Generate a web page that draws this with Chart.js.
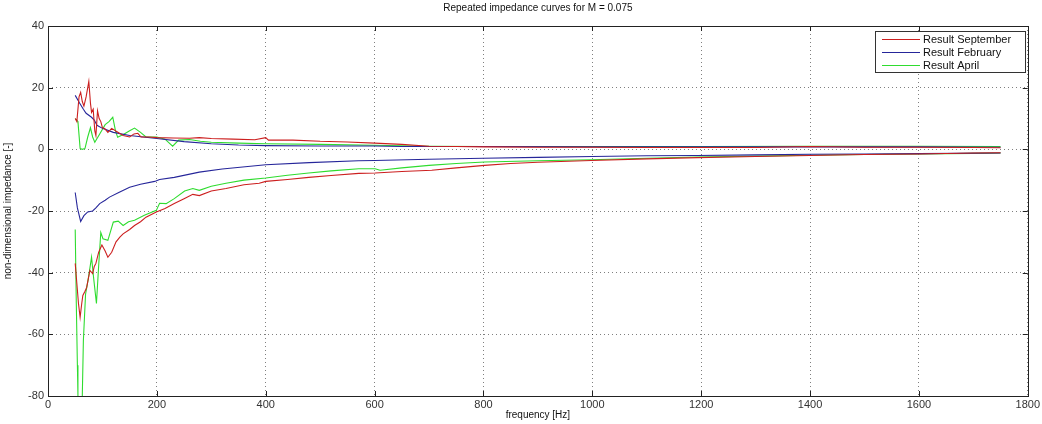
<!DOCTYPE html>
<html>
<head>
<meta charset="utf-8">
<script src="https://cdn.jsdelivr.net/npm/chart.js@4.4.0/dist/chart.umd.min.js"></script>
<style>
  body { margin: 0; background: #fff; }
  canvas { display: block; }
</style>
</head>
<body>
<canvas id="impChart" width="1042" height="424"></canvas>
<script>
// tick values
const xTicks = [0, 200, 400, 600, 800, 1000, 1200, 1400, 1600, 1800];
const yTicks = [-80, -60, -40, -20, 0, 20, 40];

const seriesNames = ["Result September", "Result February", "Result April"];

// September, upper branch
const sepUpF = [50, 53, 57, 60, 63, 66, 70, 75, 78, 80, 83, 86, 88, 91, 94, 97, 100, 104, 110, 117, 126, 138, 150, 158, 165, 171, 185, 200, 230, 260, 278, 300, 340, 380, 400, 405, 450, 500, 550, 600, 650, 700, 750, 800, 900, 1000, 1100, 1200, 1300, 1400, 1500, 1600, 1700, 1750];
const sepUp  = [10, 9, 17, 18.5, 15.5, 14, 17, 22, 15, 12, 13, 6, 4.5, 12.5, 10, 9, 7, 6.8, 5.5, 6.8, 5.8, 4.5, 4, 5, 5.2, 4, 4, 3.8, 3.7, 3.6, 3.8, 3.5, 3.3, 3.1, 3.8, 3.0, 3.0, 2.6, 2.4, 2.0, 1.6, 1.0, 0.9, 0.8, 0.7, 0.7, 0.6, 0.6, 0.6, 0.9, 0.7, 0.7, 0.6, 0.5];

// September, lower branch
const sepLoF = [50, 53, 56, 59, 62, 64, 68, 71, 74, 77, 82, 85, 88, 93, 99, 105, 110, 117, 125, 132, 138, 150, 159, 170, 180, 199, 215, 232, 250, 266, 278, 300, 327, 360, 388, 400, 440, 479, 520, 571, 601, 650, 705, 750, 802, 850, 900, 998, 1100, 1193, 1300, 1400, 1500, 1600, 1700, 1750];
const sepLo  = [-37, -43.5, -50, -54.5, -50, -47.4, -46, -44.8, -42, -39.3, -40.3, -38, -37, -33.4, -31, -33, -35, -33.4, -30, -28.5, -27.4, -26, -24.7, -23.5, -22, -20.3, -19.2, -17.6, -16, -14.6, -15, -13.5, -12.7, -11.5, -11, -10.4, -9.8, -9.1, -8.5, -7.8, -7.7, -7.2, -6.8, -6, -5.2, -4.6, -4.2, -3.6, -3.1, -2.7, -2.3, -2, -1.7, -1.5, -1.2, -1.1];

// February, upper branch
const febUpF = [50, 58, 65, 70, 80, 85, 90, 100, 120, 150, 175, 200, 250, 300, 350, 400, 500, 600, 650, 700, 800, 1000, 1200, 1400, 1600, 1750];
const febUp  = [17.5, 15, 13, 11.7, 10.4, 9.5, 7.8, 6.8, 5.5, 4.5, 4, 3.5, 2.5, 1.8, 1.4, 1.2, 1.1, 1.1, 0.9, 0.9, 0.9, 0.8, 0.8, 0.8, 0.8, 0.7];

// February, lower branch
const febLoF = [50, 54, 60, 66, 73, 82, 88, 95, 105, 113, 130, 150, 170, 196, 205, 232, 278, 320, 400, 480, 570, 600, 700, 800, 900, 1000, 1100, 1192, 1300, 1400, 1500, 1600, 1750];
const febLo  = [-14, -19, -23.4, -21.5, -20.3, -20, -19, -17.6, -16.5, -15.5, -14, -12.3, -11.3, -10.4, -9.8, -9.1, -7.4, -6.4, -5, -4.3, -3.7, -3.6, -3.2, -2.9, -2.6, -2.3, -2.1, -2, -1.8, -1.6, -1.5, -1.4, -1.2];

// April, upper branch
const aprUpF = [50, 55, 59, 63, 68, 73, 78, 82, 86, 95, 105, 112, 119, 124, 128, 140, 150, 159, 170, 180, 187, 200, 215, 229, 240, 260, 280, 300, 350, 400, 500, 600, 700, 800, 1000, 1200, 1400, 1600, 1750];
const aprUp  = [10, 9, 0.3, 0, 0.3, 4, 7, 4, 2.3, 5, 8, 9, 10.4, 6, 3.9, 5, 6, 6.9, 5.5, 4, 4, 4, 3.3, 1, 3, 3.2, 2.6, 2.3, 2, 1.8, 1.6, 1.3, 1.0, 0.9, 0.9, 0.9, 1.0, 1.0, 0.9];

// April, lower branch
const aprLoF = [50, 52, 54, 55, 57, 61, 63, 65, 69, 74, 80, 84, 89, 93, 97, 101, 110, 120, 129, 138, 148, 159, 177, 199, 205, 217, 232, 251, 266, 278, 300, 327, 360, 400, 440, 479, 520, 571, 601, 610, 650, 700, 750, 802, 900, 998, 1100, 1193, 1300, 1400, 1500, 1600, 1700, 1750];
const aprLo  = [-26, -50, -70, -80, -95, -95, -80, -62, -47, -42, -35, -42, -50, -38, -27, -29, -29.5, -23.6, -23.3, -24.7, -23.5, -23, -21.4, -19.8, -17.5, -17.6, -16, -13.5, -12.7, -13.3, -12, -11, -10, -9.3, -8.4, -7.7, -7, -6.3, -6.3, -6.8, -6, -5.2, -4.6, -4.1, -3.7, -3.4, -2.9, -2.5, -2.2, -1.9, -1.7, -1.5, -1.3, -1.2];

const colors = ["#cc1f1f", "#26269a", "#2fdc2f"];
const font = "Liberation Sans, Arial, sans-serif";

function pts(fs, vs) {
  return fs.map((f, i) => ({ x: f, y: vs[i] }));
}

function line(label, data, color) {
  return {
    label: label,
    data: data,
    borderColor: color,
    backgroundColor: color,
    borderWidth: 1.1,
    pointRadius: 0,
    tension: 0,
    fill: false
  };
}

// box frame, inward ticks and the legend box (matlab style)
const framePlugin = {
  id: "frame",
  afterDatasetsDraw(chart) {
    const ctx = chart.ctx;
    const a = chart.chartArea;
    const xs = chart.scales.x, ys = chart.scales.y;
    ctx.save();
    ctx.strokeStyle = "#222";
    ctx.lineWidth = 1;
    ctx.setLineDash([]);
    ctx.strokeRect(Math.round(a.left) + 0.5, Math.round(a.top) + 0.5,
      Math.round(a.right - a.left), Math.round(a.bottom - a.top));
    ctx.beginPath();
    xTicks.forEach(t => {
      const px = Math.round(xs.getPixelForValue(t)) + 0.5;
      ctx.moveTo(px, a.bottom); ctx.lineTo(px, a.bottom - 5);
      ctx.moveTo(px, a.top); ctx.lineTo(px, a.top + 5);
    });
    yTicks.forEach(t => {
      const py = Math.round(ys.getPixelForValue(t)) + 0.5;
      ctx.moveTo(a.left, py); ctx.lineTo(a.left + 5, py);
      ctx.moveTo(a.right, py); ctx.lineTo(a.right - 5, py);
    });
    ctx.stroke();

    // legend
    const lx = 875.5, ly = 31.5, lw = 150, lh = 41;
    ctx.fillStyle = "#fff";
    ctx.fillRect(lx, ly, lw, lh);
    ctx.strokeStyle = "#333";
    ctx.strokeRect(lx, ly, lw, lh);
    ctx.font = "11px " + font;
    ctx.textBaseline = "middle";
    ctx.textAlign = "left";
    seriesNames.forEach((name, i) => {
      const y = 39 + i * 13;
      ctx.fillStyle = colors[i];
      ctx.fillRect(882, y, 38, 1);
      ctx.fillStyle = "#111";
      ctx.fillText(name, 923, y + 1);
    });
    ctx.restore();
  }
};

const ctx = document.getElementById("impChart");

new Chart(ctx, {
  type: "line",
  data: {
    datasets: [
      line(seriesNames[0], pts(sepUpF, sepUp), colors[0]),
      line(seriesNames[0], pts(sepLoF, sepLo), colors[0]),
      line(seriesNames[1], pts(febUpF, febUp), colors[1]),
      line(seriesNames[1], pts(febLoF, febLo), colors[1]),
      line(seriesNames[2], pts(aprUpF, aprUp), colors[2]),
      line(seriesNames[2], pts(aprLoF, aprLo), colors[2])
    ]
  },
  plugins: [framePlugin],
  options: {
    responsive: false,
    animation: false,
    devicePixelRatio: 1,
    layout: { padding: { left: 0, right: 10, top: 0, bottom: 0 } },
    plugins: {
      legend: { display: false },
      tooltip: { enabled: false },
      title: {
        display: true,
        text: "Repeated impedance curves for M = 0.075",
        fullSize: false,
        color: "#111",
        font: { family: font, size: 10, weight: "normal" },
        padding: { top: 2, bottom: 12 }
      }
    },
    scales: {
      x: {
        type: "linear",
        min: 0,
        max: 1800,
        afterFit: s => { s.height = 28; },
        afterBuildTicks: s => { s.ticks = xTicks.map(v => ({ value: v })); },
        ticks: {
          color: "#333",
          font: { family: font, size: 11 },
          padding: 2,
          maxRotation: 0,
          autoSkip: false,
          callback: v => String(v)
        },
        grid: { color: "rgba(0,0,0,0.5)", drawTicks: false },
        border: { display: false, dash: [1, 3] },
        title: {
          display: true,
          text: "frequency [Hz]",
          color: "#111",
          font: { family: font, size: 10 },
          padding: { top: 0, bottom: 3 }
        }
      },
      y: {
        type: "linear",
        min: -80,
        max: 40,
        afterFit: s => { s.width = 48; },
        afterBuildTicks: s => { s.ticks = yTicks.map(v => ({ value: v })); },
        ticks: {
          color: "#333",
          font: { family: font, size: 11 },
          padding: 4,
          autoSkip: false,
          callback: v => String(v)
        },
        grid: { color: "rgba(0,0,0,0.5)", drawTicks: false },
        border: { display: false, dash: [1, 3] },
        title: {
          display: true,
          text: "non-dimensional impedance [-]",
          color: "#111",
          font: { family: font, size: 10 },
          padding: { top: 2, bottom: 0 }
        }
      }
    }
  }
});
</script>
</body>
</html>
